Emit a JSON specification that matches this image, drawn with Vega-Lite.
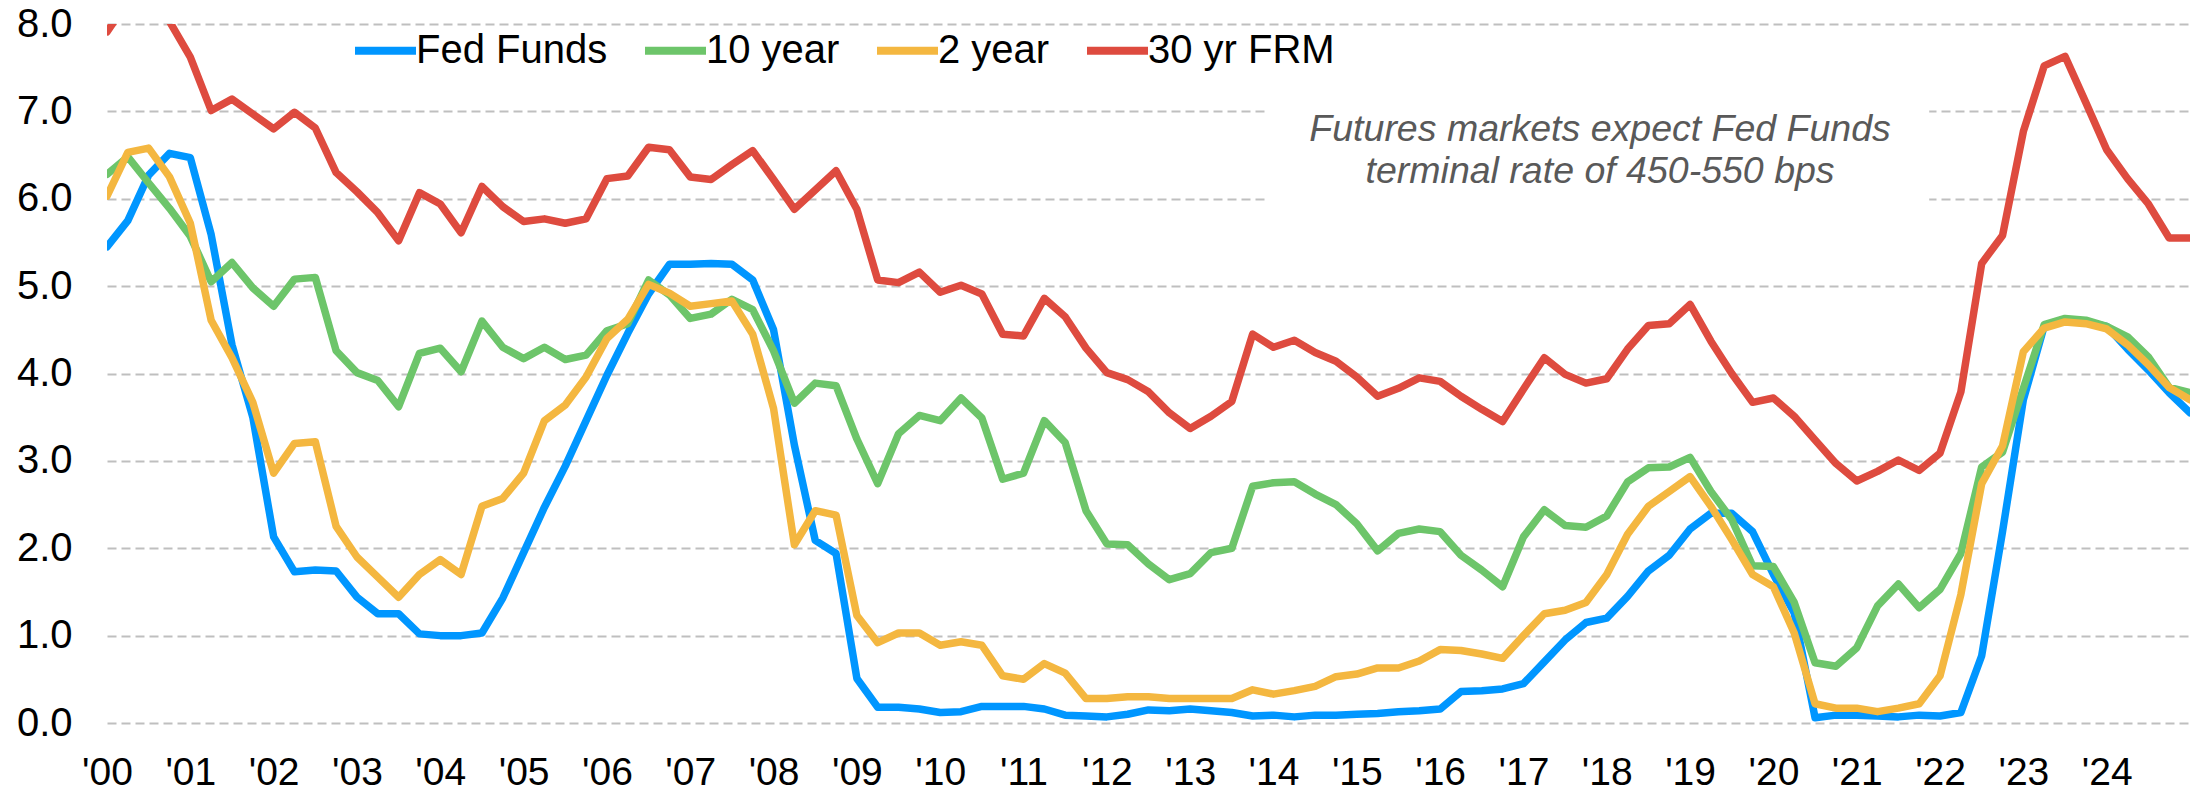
{
  "$schema": "https://vega.github.io/schema/vega-lite/v6.json",
  "width": 2083,
  "height": 699,
  "autosize": {"type": "none"},
  "padding": {"left": 107, "top": 24, "right": 0, "bottom": 70},
  "background": "white",
  "config": {
    "view": {"stroke": null},
    "font": "Liberation Sans",
    "axis": {"labelFont": "Liberation Sans", "labelColor": "#000000", "domain": false, "ticks": false, "tickSize": 0, "gridColor": "#BFBFBF", "gridDash": [9, 5], "gridWidth": 2},
    "axisX": {"grid": false, "labelFontSize": 39, "labelPadding": 30, "labelFlush": false, "labelOverlap": false},
    "axisY": {"grid": true, "labelFontSize": 40, "labelPadding": 35}
  },
  "datasets": {
    "rates": [
      {"t": 2000, "Fed Funds": 5.45, "10 year": 6.28, "2 year": 6.03, "30 yr FRM": 7.91},
      {"t": 2000.25, "Fed Funds": 5.75, "10 year": 6.48, "2 year": 6.53, "30 yr FRM": 8.26},
      {"t": 2000.5, "Fed Funds": 6.27, "10 year": 6.18, "2 year": 6.58, "30 yr FRM": 8.32},
      {"t": 2000.75, "Fed Funds": 6.52, "10 year": 5.89, "2 year": 6.25, "30 yr FRM": 8.03},
      {"t": 2001, "Fed Funds": 6.47, "10 year": 5.57, "2 year": 5.72, "30 yr FRM": 7.62},
      {"t": 2001.25, "Fed Funds": 5.59, "10 year": 5.05, "2 year": 4.61, "30 yr FRM": 7.01},
      {"t": 2001.5, "Fed Funds": 4.33, "10 year": 5.27, "2 year": 4.18, "30 yr FRM": 7.14},
      {"t": 2001.75, "Fed Funds": 3.5, "10 year": 4.98, "2 year": 3.67, "30 yr FRM": 6.97},
      {"t": 2002, "Fed Funds": 2.13, "10 year": 4.77, "2 year": 2.86, "30 yr FRM": 6.8},
      {"t": 2002.25, "Fed Funds": 1.73, "10 year": 5.08, "2 year": 3.2, "30 yr FRM": 6.99},
      {"t": 2002.5, "Fed Funds": 1.75, "10 year": 5.1, "2 year": 3.22, "30 yr FRM": 6.81},
      {"t": 2002.75, "Fed Funds": 1.74, "10 year": 4.26, "2 year": 2.25, "30 yr FRM": 6.3},
      {"t": 2003, "Fed Funds": 1.44, "10 year": 4.01, "2 year": 1.9, "30 yr FRM": 6.08},
      {"t": 2003.25, "Fed Funds": 1.25, "10 year": 3.92, "2 year": 1.67, "30 yr FRM": 5.84},
      {"t": 2003.5, "Fed Funds": 1.25, "10 year": 3.62, "2 year": 1.44, "30 yr FRM": 5.52},
      {"t": 2003.75, "Fed Funds": 1.02, "10 year": 4.23, "2 year": 1.7, "30 yr FRM": 6.07},
      {"t": 2004, "Fed Funds": 1.0, "10 year": 4.29, "2 year": 1.87, "30 yr FRM": 5.94},
      {"t": 2004.25, "Fed Funds": 1.0, "10 year": 4.02, "2 year": 1.7, "30 yr FRM": 5.61},
      {"t": 2004.5, "Fed Funds": 1.03, "10 year": 4.6, "2 year": 2.48, "30 yr FRM": 6.14},
      {"t": 2004.75, "Fed Funds": 1.43, "10 year": 4.3, "2 year": 2.57, "30 yr FRM": 5.91},
      {"t": 2005, "Fed Funds": 1.95, "10 year": 4.17, "2 year": 2.86, "30 yr FRM": 5.74},
      {"t": 2005.25, "Fed Funds": 2.47, "10 year": 4.3, "2 year": 3.46, "30 yr FRM": 5.77},
      {"t": 2005.5, "Fed Funds": 2.94, "10 year": 4.16, "2 year": 3.64, "30 yr FRM": 5.72},
      {"t": 2005.75, "Fed Funds": 3.46, "10 year": 4.21, "2 year": 3.96, "30 yr FRM": 5.77},
      {"t": 2006, "Fed Funds": 3.98, "10 year": 4.49, "2 year": 4.4, "30 yr FRM": 6.23},
      {"t": 2006.25, "Fed Funds": 4.46, "10 year": 4.57, "2 year": 4.62, "30 yr FRM": 6.26},
      {"t": 2006.5, "Fed Funds": 4.91, "10 year": 5.07, "2 year": 5.02, "30 yr FRM": 6.59},
      {"t": 2006.75, "Fed Funds": 5.25, "10 year": 4.9, "2 year": 4.92, "30 yr FRM": 6.56},
      {"t": 2007, "Fed Funds": 5.25, "10 year": 4.63, "2 year": 4.77, "30 yr FRM": 6.25},
      {"t": 2007.25, "Fed Funds": 5.26, "10 year": 4.68, "2 year": 4.8, "30 yr FRM": 6.22},
      {"t": 2007.5, "Fed Funds": 5.25, "10 year": 4.85, "2 year": 4.83, "30 yr FRM": 6.39},
      {"t": 2007.75, "Fed Funds": 5.07, "10 year": 4.73, "2 year": 4.45, "30 yr FRM": 6.55},
      {"t": 2008, "Fed Funds": 4.5, "10 year": 4.26, "2 year": 3.6, "30 yr FRM": 6.22},
      {"t": 2008.25, "Fed Funds": 3.18, "10 year": 3.66, "2 year": 2.04, "30 yr FRM": 5.88},
      {"t": 2008.5, "Fed Funds": 2.09, "10 year": 3.89, "2 year": 2.43, "30 yr FRM": 6.1},
      {"t": 2008.75, "Fed Funds": 1.94, "10 year": 3.86, "2 year": 2.38, "30 yr FRM": 6.32},
      {"t": 2009, "Fed Funds": 0.51, "10 year": 3.25, "2 year": 1.23, "30 yr FRM": 5.88},
      {"t": 2009.25, "Fed Funds": 0.18, "10 year": 2.74, "2 year": 0.92, "30 yr FRM": 5.07},
      {"t": 2009.5, "Fed Funds": 0.18, "10 year": 3.31, "2 year": 1.03, "30 yr FRM": 5.04},
      {"t": 2009.75, "Fed Funds": 0.16, "10 year": 3.52, "2 year": 1.03, "30 yr FRM": 5.16},
      {"t": 2010, "Fed Funds": 0.12, "10 year": 3.46, "2 year": 0.89, "30 yr FRM": 4.93},
      {"t": 2010.25, "Fed Funds": 0.13, "10 year": 3.72, "2 year": 0.93, "30 yr FRM": 5.01},
      {"t": 2010.5, "Fed Funds": 0.19, "10 year": 3.49, "2 year": 0.89, "30 yr FRM": 4.91},
      {"t": 2010.75, "Fed Funds": 0.19, "10 year": 2.79, "2 year": 0.54, "30 yr FRM": 4.45},
      {"t": 2011, "Fed Funds": 0.19, "10 year": 2.86, "2 year": 0.5, "30 yr FRM": 4.43},
      {"t": 2011.25, "Fed Funds": 0.16, "10 year": 3.46, "2 year": 0.68, "30 yr FRM": 4.86},
      {"t": 2011.5, "Fed Funds": 0.09, "10 year": 3.21, "2 year": 0.57, "30 yr FRM": 4.65},
      {"t": 2011.75, "Fed Funds": 0.08, "10 year": 2.43, "2 year": 0.28, "30 yr FRM": 4.29},
      {"t": 2012, "Fed Funds": 0.07, "10 year": 2.05, "2 year": 0.28, "30 yr FRM": 4.01},
      {"t": 2012.25, "Fed Funds": 0.1, "10 year": 2.04, "2 year": 0.3, "30 yr FRM": 3.93},
      {"t": 2012.5, "Fed Funds": 0.15, "10 year": 1.82, "2 year": 0.3, "30 yr FRM": 3.79},
      {"t": 2012.75, "Fed Funds": 0.14, "10 year": 1.64, "2 year": 0.28, "30 yr FRM": 3.55},
      {"t": 2013, "Fed Funds": 0.16, "10 year": 1.71, "2 year": 0.28, "30 yr FRM": 3.37},
      {"t": 2013.25, "Fed Funds": 0.14, "10 year": 1.95, "2 year": 0.28, "30 yr FRM": 3.51},
      {"t": 2013.5, "Fed Funds": 0.12, "10 year": 2.0, "2 year": 0.28, "30 yr FRM": 3.68},
      {"t": 2013.75, "Fed Funds": 0.08, "10 year": 2.71, "2 year": 0.38, "30 yr FRM": 4.45},
      {"t": 2014, "Fed Funds": 0.09, "10 year": 2.75, "2 year": 0.33, "30 yr FRM": 4.3},
      {"t": 2014.25, "Fed Funds": 0.07, "10 year": 2.76, "2 year": 0.37, "30 yr FRM": 4.38},
      {"t": 2014.5, "Fed Funds": 0.09, "10 year": 2.62, "2 year": 0.42, "30 yr FRM": 4.24},
      {"t": 2014.75, "Fed Funds": 0.09, "10 year": 2.5, "2 year": 0.53, "30 yr FRM": 4.14},
      {"t": 2015, "Fed Funds": 0.1, "10 year": 2.28, "2 year": 0.56, "30 yr FRM": 3.96},
      {"t": 2015.25, "Fed Funds": 0.11, "10 year": 1.97, "2 year": 0.63, "30 yr FRM": 3.74},
      {"t": 2015.5, "Fed Funds": 0.13, "10 year": 2.17, "2 year": 0.63, "30 yr FRM": 3.83},
      {"t": 2015.75, "Fed Funds": 0.14, "10 year": 2.22, "2 year": 0.71, "30 yr FRM": 3.95},
      {"t": 2016, "Fed Funds": 0.16, "10 year": 2.19, "2 year": 0.84, "30 yr FRM": 3.91},
      {"t": 2016.25, "Fed Funds": 0.36, "10 year": 1.92, "2 year": 0.83, "30 yr FRM": 3.74},
      {"t": 2016.5, "Fed Funds": 0.37, "10 year": 1.75, "2 year": 0.79, "30 yr FRM": 3.59},
      {"t": 2016.75, "Fed Funds": 0.39, "10 year": 1.56, "2 year": 0.74, "30 yr FRM": 3.45},
      {"t": 2017, "Fed Funds": 0.45, "10 year": 2.13, "2 year": 1.0, "30 yr FRM": 3.82},
      {"t": 2017.25, "Fed Funds": 0.7, "10 year": 2.44, "2 year": 1.25, "30 yr FRM": 4.18},
      {"t": 2017.5, "Fed Funds": 0.95, "10 year": 2.26, "2 year": 1.29, "30 yr FRM": 3.99},
      {"t": 2017.75, "Fed Funds": 1.15, "10 year": 2.24, "2 year": 1.38, "30 yr FRM": 3.89},
      {"t": 2018, "Fed Funds": 1.2, "10 year": 2.37, "2 year": 1.7, "30 yr FRM": 3.94},
      {"t": 2018.25, "Fed Funds": 1.45, "10 year": 2.76, "2 year": 2.16, "30 yr FRM": 4.28},
      {"t": 2018.5, "Fed Funds": 1.74, "10 year": 2.92, "2 year": 2.48, "30 yr FRM": 4.55},
      {"t": 2018.75, "Fed Funds": 1.92, "10 year": 2.93, "2 year": 2.65, "30 yr FRM": 4.57},
      {"t": 2019, "Fed Funds": 2.22, "10 year": 3.04, "2 year": 2.82, "30 yr FRM": 4.79},
      {"t": 2019.25, "Fed Funds": 2.4, "10 year": 2.65, "2 year": 2.48, "30 yr FRM": 4.37},
      {"t": 2019.5, "Fed Funds": 2.4, "10 year": 2.33, "2 year": 2.1, "30 yr FRM": 4.0},
      {"t": 2019.75, "Fed Funds": 2.19, "10 year": 1.8, "2 year": 1.7, "30 yr FRM": 3.67},
      {"t": 2020, "Fed Funds": 1.7, "10 year": 1.79, "2 year": 1.56, "30 yr FRM": 3.72},
      {"t": 2020.25, "Fed Funds": 1.26, "10 year": 1.38, "2 year": 1.03, "30 yr FRM": 3.51},
      {"t": 2020.5, "Fed Funds": 0.06, "10 year": 0.69, "2 year": 0.22, "30 yr FRM": 3.24},
      {"t": 2020.75, "Fed Funds": 0.09, "10 year": 0.65, "2 year": 0.17, "30 yr FRM": 2.97},
      {"t": 2021, "Fed Funds": 0.09, "10 year": 0.86, "2 year": 0.17, "30 yr FRM": 2.77},
      {"t": 2021.25, "Fed Funds": 0.08, "10 year": 1.34, "2 year": 0.13, "30 yr FRM": 2.88},
      {"t": 2021.5, "Fed Funds": 0.07, "10 year": 1.59, "2 year": 0.17, "30 yr FRM": 3.01},
      {"t": 2021.75, "Fed Funds": 0.09, "10 year": 1.32, "2 year": 0.22, "30 yr FRM": 2.89},
      {"t": 2022, "Fed Funds": 0.08, "10 year": 1.53, "2 year": 0.54, "30 yr FRM": 3.09},
      {"t": 2022.25, "Fed Funds": 0.12, "10 year": 1.94, "2 year": 1.47, "30 yr FRM": 3.79},
      {"t": 2022.5, "Fed Funds": 0.77, "10 year": 2.93, "2 year": 2.74, "30 yr FRM": 5.26},
      {"t": 2022.75, "Fed Funds": 2.19, "10 year": 3.1, "2 year": 3.17, "30 yr FRM": 5.58},
      {"t": 2023, "Fed Funds": 3.7, "10 year": 3.83, "2 year": 4.25, "30 yr FRM": 6.77},
      {"t": 2023.25, "Fed Funds": 4.54, "10 year": 4.56, "2 year": 4.52, "30 yr FRM": 7.52},
      {"t": 2023.5, "Fed Funds": 4.62, "10 year": 4.63, "2 year": 4.59, "30 yr FRM": 7.63},
      {"t": 2023.75, "Fed Funds": 4.59, "10 year": 4.61, "2 year": 4.57, "30 yr FRM": 7.1},
      {"t": 2024, "Fed Funds": 4.54, "10 year": 4.54, "2 year": 4.51, "30 yr FRM": 6.56},
      {"t": 2024.25, "Fed Funds": 4.28, "10 year": 4.42, "2 year": 4.33, "30 yr FRM": 6.23},
      {"t": 2024.5, "Fed Funds": 4.04, "10 year": 4.19, "2 year": 4.1, "30 yr FRM": 5.94},
      {"t": 2024.75, "Fed Funds": 3.78, "10 year": 3.84, "2 year": 3.84, "30 yr FRM": 5.55},
      {"t": 2025, "Fed Funds": 3.55, "10 year": 3.78, "2 year": 3.7, "30 yr FRM": 5.55}
    ],
    "note": [
      {"x": 2017.92, "y": 6.79, "x1": 2013.9, "x2": 2021.87, "y1": 5.75, "y2": 7.45, "note": "Futures markets expect Fed Funds\nterminal rate of 450-550 bps"}
    ]
  },
  "layer": [
    {
      "data": {"name": "note"},
      "mark": {"type": "rect", "fill": "white", "stroke": null},
      "encoding": {
        "x": {"field": "x1", "type": "quantitative", "title": null, "scale": {"domain": [2000, 2025], "nice": false, "zero": false}},
        "x2": {"field": "x2"},
        "y": {"field": "y1", "type": "quantitative", "title": null, "scale": {"domain": [0, 8], "nice": false}},
        "y2": {"field": "y2"}
      }
    },
    {
      "data": {"name": "rates"},
      "transform": [{"fold": ["Fed Funds", "10 year", "2 year", "30 yr FRM"], "as": ["series", "value"]}],
      "mark": {"type": "line", "strokeWidth": 7.5, "clip": true, "strokeJoin": "round", "strokeCap": "round"},
      "encoding": {
        "x": {"field": "t", "type": "quantitative", "title": null, "scale": {"domain": [2000, 2025], "nice": false, "zero": false},
              "axis": {"values": [2000,2001,2002,2003,2004,2005,2006,2007,2008,2009,2010,2011,2012,2013,2014,2015,2016,2017,2018,2019,2020,2021,2022,2023,2024], "labelExpr": "\"'\" + slice(toString(datum.value), 2)"}},
        "y": {"field": "value", "type": "quantitative", "title": null, "scale": {"domain": [0, 8], "nice": false},
              "axis": {"values": [0,1,2,3,4,5,6,7,8], "format": ".1f"}},
        "color": {"field": "series", "type": "nominal",
                  "scale": {"domain": ["Fed Funds", "10 year", "2 year", "30 yr FRM"], "range": ["#0096FF", "#6DC56A", "#F4B740", "#DE4B3F"]},
                  "legend": {"orient": "none", "legendX": 244, "legendY": -8, "direction": "horizontal", "columns": 4, "title": null,
                             "labelFontSize": 40, "labelFont": "Liberation Sans", "labelColor": "#000000", "symbolType": "stroke",
                             "symbolSize": 3721, "symbolStrokeWidth": 8, "labelOffset": -4, "columnPadding": 21, "labelLimit": 0}}
      }
    },
    {
      "data": {"name": "note"},
      "mark": {"type": "text", "font": "Liberation Sans", "fontStyle": "italic", "fontSize": 37.5, "color": "#595959", "align": "center", "baseline": "middle", "lineBreak": "\n", "lineHeight": 42},
      "encoding": {
        "x": {"field": "x", "type": "quantitative", "title": null},
        "y": {"field": "y", "type": "quantitative", "title": null},
        "text": {"field": "note"}
      }
    }
  ]
}
